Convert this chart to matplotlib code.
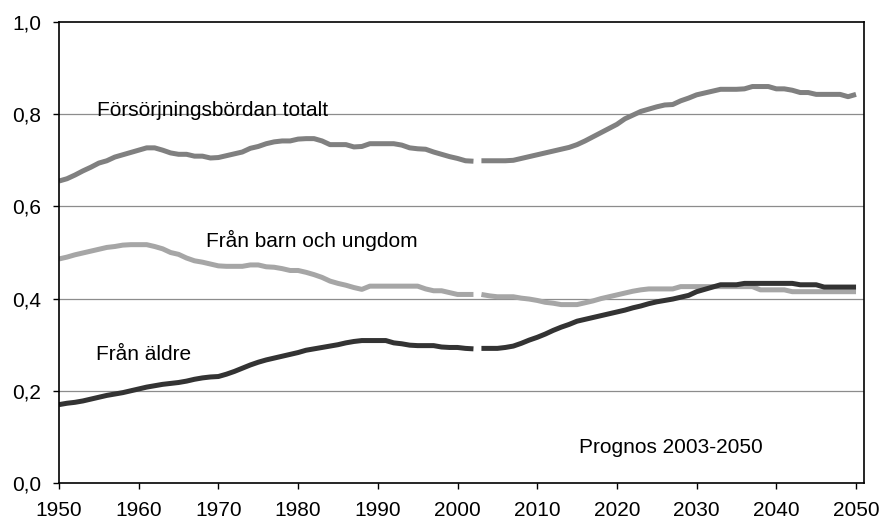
import matplotlib
matplotlib.use("Agg")
import matplotlib.pyplot as plt
from matplotlib.ticker import FixedLocator

plt.rcParams['font.family'] = ['Liberation Sans', 'DejaVu Sans']

years_hist = list(range(1950, 2003))
years_prog = list(range(2003, 2051))

total_hist = [0.655, 0.660, 0.668, 0.677, 0.685, 0.694, 0.699, 0.707, 0.712, 0.717,
              0.722, 0.727, 0.727, 0.722, 0.716, 0.713, 0.713, 0.709, 0.709, 0.705,
              0.706, 0.710, 0.714, 0.718, 0.726, 0.730, 0.736, 0.740, 0.742, 0.742,
              0.746, 0.747, 0.747, 0.742, 0.734, 0.734, 0.734, 0.729, 0.730, 0.736,
              0.736, 0.736, 0.736, 0.733, 0.727, 0.725, 0.724, 0.718, 0.713, 0.708,
              0.704, 0.699, 0.698]
total_prog = [0.699, 0.699, 0.699, 0.699, 0.700, 0.704, 0.708, 0.712, 0.716, 0.720,
              0.724, 0.728, 0.734, 0.742, 0.751, 0.760, 0.769, 0.778, 0.790, 0.798,
              0.806, 0.811, 0.816, 0.820, 0.821, 0.829, 0.835, 0.842, 0.846, 0.850,
              0.854, 0.854, 0.854, 0.855, 0.860, 0.860, 0.860, 0.855, 0.855, 0.852,
              0.847, 0.847, 0.843, 0.843, 0.843, 0.843, 0.838, 0.843]

child_hist = [0.486, 0.490, 0.495, 0.499, 0.503, 0.507, 0.511, 0.513, 0.516, 0.517,
              0.517, 0.517, 0.513, 0.508, 0.500, 0.496, 0.488, 0.482, 0.479, 0.475,
              0.471, 0.470, 0.470, 0.470, 0.473, 0.473, 0.469, 0.468, 0.465, 0.461,
              0.461, 0.457, 0.452, 0.446, 0.438, 0.433, 0.429, 0.424, 0.420, 0.427,
              0.427, 0.427, 0.427, 0.427, 0.427, 0.427, 0.421, 0.417, 0.417, 0.413,
              0.409, 0.409, 0.409]
child_prog = [0.409, 0.406, 0.404, 0.404, 0.404, 0.401, 0.399, 0.396, 0.392, 0.390,
              0.387, 0.387, 0.387, 0.391, 0.395, 0.400, 0.404, 0.408, 0.412, 0.416,
              0.419, 0.421, 0.421, 0.421, 0.421, 0.426, 0.426, 0.426, 0.426, 0.426,
              0.426, 0.426, 0.426, 0.426, 0.426, 0.419, 0.419, 0.419, 0.419, 0.415,
              0.415, 0.415, 0.415, 0.415, 0.415, 0.415, 0.415, 0.415]

old_hist = [0.170, 0.173, 0.175, 0.178, 0.182, 0.186, 0.190, 0.193, 0.196, 0.200,
            0.204, 0.208, 0.211, 0.214, 0.216, 0.218, 0.221, 0.225, 0.228, 0.230,
            0.231, 0.236, 0.242, 0.249, 0.256, 0.262, 0.267, 0.271, 0.275, 0.279,
            0.283, 0.288, 0.291, 0.294, 0.297, 0.300, 0.304, 0.307, 0.309, 0.309,
            0.309, 0.309, 0.304, 0.302, 0.299, 0.298, 0.298, 0.298, 0.295, 0.294,
            0.294, 0.292, 0.291]
old_prog = [0.292, 0.292, 0.292, 0.294, 0.297, 0.303, 0.310, 0.316, 0.323, 0.331,
            0.338, 0.344, 0.351, 0.355, 0.359, 0.363, 0.367, 0.371, 0.375, 0.380,
            0.384, 0.389, 0.393, 0.396, 0.399, 0.403, 0.407, 0.415, 0.420, 0.425,
            0.430, 0.430, 0.430, 0.433, 0.433, 0.433, 0.433, 0.433, 0.433, 0.433,
            0.430, 0.430, 0.430, 0.425, 0.425, 0.425, 0.425, 0.425]

x_ticks = list(range(1950, 2051, 10))
x_labels = [str(y) for y in x_ticks]
y_ticks = [0.0, 0.2, 0.4, 0.6, 0.8, 1.0]
y_labels = ["0,0", "0,2", "0,4", "0,6", "0,8", "1,0"]

c_total = "#808080"
c_child = "#a6a6a6"
c_old = "#333333"

fig = plt.figure(figsize=(8.85, 5.22), dpi=100)
ax = fig.add_axes([59/885, 1 - 483/522, (864 - 59)/885, (483 - 22)/522])

lw = 3.6
for yrs, vals, col in [(years_hist, total_hist, c_total), (years_prog, total_prog, c_total),
                       (years_hist, child_hist, c_child), (years_prog, child_prog, c_child),
                       (years_hist, old_hist, c_old), (years_prog, old_prog, c_old)]:
    ax.plot(yrs, vals, color=col, lw=lw, solid_capstyle='butt', solid_joinstyle='round')

ax.set_xlim(1950, 2051)
ax.set_ylim(0, 1.0)
ax.xaxis.set_major_locator(FixedLocator(x_ticks))
ax.set_xticklabels(x_labels)
ax.yaxis.set_major_locator(FixedLocator(y_ticks))
ax.set_yticklabels(y_labels)

for y in y_ticks[1:-1]:
    ax.axhline(y, color="#8c8c8c", lw=0.9, zorder=0)

for s in ax.spines.values():
    s.set_color("black")
    s.set_linewidth(1.2)

fs = 15
ax.tick_params(axis='x', direction='out', length=4, width=1, pad=9, labelsize=fs)
ax.tick_params(axis='y', direction='out', length=4, width=1, pad=9, labelsize=fs)

ax.text(1954.8, 0.809, "Försörjningsbördan totalt", fontsize=fs, ha='left', va='center')
ax.text(1968.5, 0.526, "Från barn och ungdom", fontsize=fs, ha='left', va='center')
ax.text(1954.6, 0.278, "Från äldre", fontsize=fs, ha='left', va='center')
ax.text(2015.3, 0.078, "Prognos 2003-2050", fontsize=fs, ha='left', va='center')

fig.savefig("out.png", dpi=100)
